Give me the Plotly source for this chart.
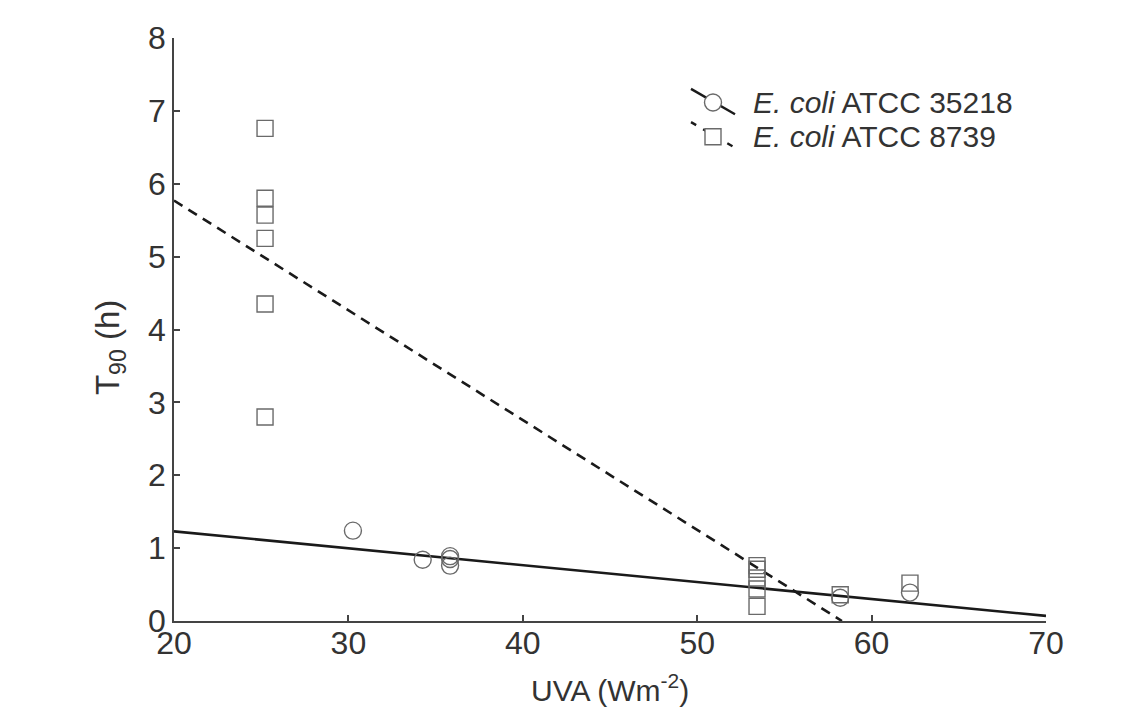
import plotly.graph_objects as go

# ---- data ----
uva_35218 = [30.26, 34.26, 35.83, 35.83, 35.83, 58.2, 62.2]
t90_35218 = [1.24, 0.84, 0.89, 0.85, 0.76, 0.32, 0.39]

uva_8739 = [25.22, 25.22, 25.22, 25.22, 25.22, 25.22,
            53.43, 53.43, 53.43, 53.43, 53.43, 58.2, 62.2]
t90_8739 = [6.76, 5.80, 5.57, 5.25, 4.35, 2.80,
            0.76, 0.71, 0.59, 0.44, 0.20, 0.36, 0.52]

fit_x_35218 = [20, 70]
fit_y_35218 = [1.23, 0.07]
fit_x_8739 = [20, 58.3]
fit_y_8739 = [5.77, 0.0]

x_ticks = [20, 30, 40, 50, 60, 70]
y_ticks = [0, 1, 2, 3, 4, 5, 6, 7, 8]

legend_labels = ["<i>E. coli</i> ATCC 35218", "<i>E. coli</i> ATCC 8739"]
x_title = "UVA (Wm<sup>-2</sup>)"
y_title = "T<sub>90</sub> (h)"

FONT = "Liberation Sans, Arial, sans-serif"
TXT = "#333333"
MK = "#6a6a6a"

# page has an 8px body margin: figure is drawn 8px inside the window
BODY = 8
W, H = 1140 - BODY, 718 - BODY
plot_l, plot_r, plot_t, plot_b = 174, 1046, 25, 621   # window pixels
pw, ph = plot_r - plot_l, plot_b - plot_t
def px(x):
    return (x - plot_l) / pw
def py(y):
    return (plot_b - y) / ph

fig = go.Figure()

fig.add_trace(go.Scatter(x=fit_x_8739, y=fit_y_8739, mode="lines",
                         line=dict(color="#1a1a1a", width=2.6, dash="10px,7px"),
                         showlegend=False, hoverinfo="skip"))
fig.add_trace(go.Scatter(x=fit_x_35218, y=fit_y_35218, mode="lines",
                         line=dict(color="#1a1a1a", width=2.6),
                         showlegend=False, hoverinfo="skip"))
fig.add_trace(go.Scatter(x=uva_35218, y=t90_35218, mode="markers",
                         marker=dict(symbol="circle-open", size=17,
                                     line=dict(color=MK, width=1.4), color=MK),
                         showlegend=False))
fig.add_trace(go.Scatter(x=uva_8739, y=t90_8739, mode="markers",
                         marker=dict(symbol="square-open", size=16,
                                     line=dict(color=MK, width=1.4), color=MK),
                         showlegend=False))

# ---- custom legend (paper coordinates) ----
shapes = []
shapes.append(dict(type="line", xref="paper", yref="paper",
                   x0=px(691), y0=py(77), x1=px(735), y1=py(103),
                   line=dict(color="#1a1a1a", width=2.4)))
shapes.append(dict(type="circle", xref="paper", yref="paper",
                   xsizemode="pixel", ysizemode="pixel",
                   xanchor=px(713), yanchor=py(91),
                   x0=-8.5, x1=8.5, y0=-8.5, y1=8.5,
                   fillcolor="white", line=dict(color=MK, width=1.4)))
shapes.append(dict(type="line", xref="paper", yref="paper",
                   x0=px(691), y0=py(111), x1=px(733), y1=py(136),
                   line=dict(color="#1a1a1a", width=2.4, dash="6px,8px")))
shapes.append(dict(type="rect", xref="paper", yref="paper",
                   xsizemode="pixel", ysizemode="pixel",
                   xanchor=px(713), yanchor=py(126),
                   x0=-8, x1=8, y0=-8, y1=8,
                   fillcolor="white", line=dict(color=MK, width=1.4)))

annotations = []
for lab, yy in zip(legend_labels, [91, 126]):
    annotations.append(dict(text=lab, xref="paper", yref="paper",
                            x=px(751), y=py(yy), xanchor="left", yanchor="middle",
                            showarrow=False,
                            font=dict(family=FONT, size=30, color=TXT)))
annotations.append(dict(text=y_title, xref="paper", yref="paper",
                        x=px(110), y=py(342), xanchor="center", yanchor="middle",
                        textangle=-90, showarrow=False,
                        font=dict(family=FONT, size=33, color=TXT)))
annotations.append(dict(text=x_title, xref="paper", yref="paper",
                        x=0.5, y=py(690), xanchor="center", yanchor="middle",
                        showarrow=False,
                        font=dict(family=FONT, size=30, color=TXT)))

fig.update_layout(
    width=W, height=H,
    margin=dict(l=plot_l - BODY, r=W - (plot_r - BODY),
                t=plot_t - BODY, b=H - (plot_b - BODY)),
    paper_bgcolor="white", plot_bgcolor="white",
    font=dict(family=FONT, color=TXT, size=28),
    shapes=shapes, annotations=annotations,
    showlegend=False,
)
fig.update_xaxes(range=[20, 70], tickvals=x_ticks, ticktext=[str(v) for v in x_ticks],
                 ticks="inside", ticklen=6, tickwidth=1.5, tickcolor="#444",
                 showline=True, linecolor="#444", linewidth=1.6,
                 showgrid=False, zeroline=False, ticklabelstandoff=-7,
                 ticklabeloverflow="allow",
                 tickfont=dict(family=FONT, size=32, color=TXT))
fig.update_yaxes(range=[0, 8], tickvals=y_ticks, ticktext=[str(v) for v in y_ticks],
                 ticks="inside", ticklen=6, tickwidth=1.5, tickcolor="#444",
                 showline=True, linecolor="#444", linewidth=1.6,
                 showgrid=False, zeroline=False, ticklabeloverflow="allow",
                 tickfont=dict(family=FONT, size=32, color=TXT))

fig.write_html("out.html")
